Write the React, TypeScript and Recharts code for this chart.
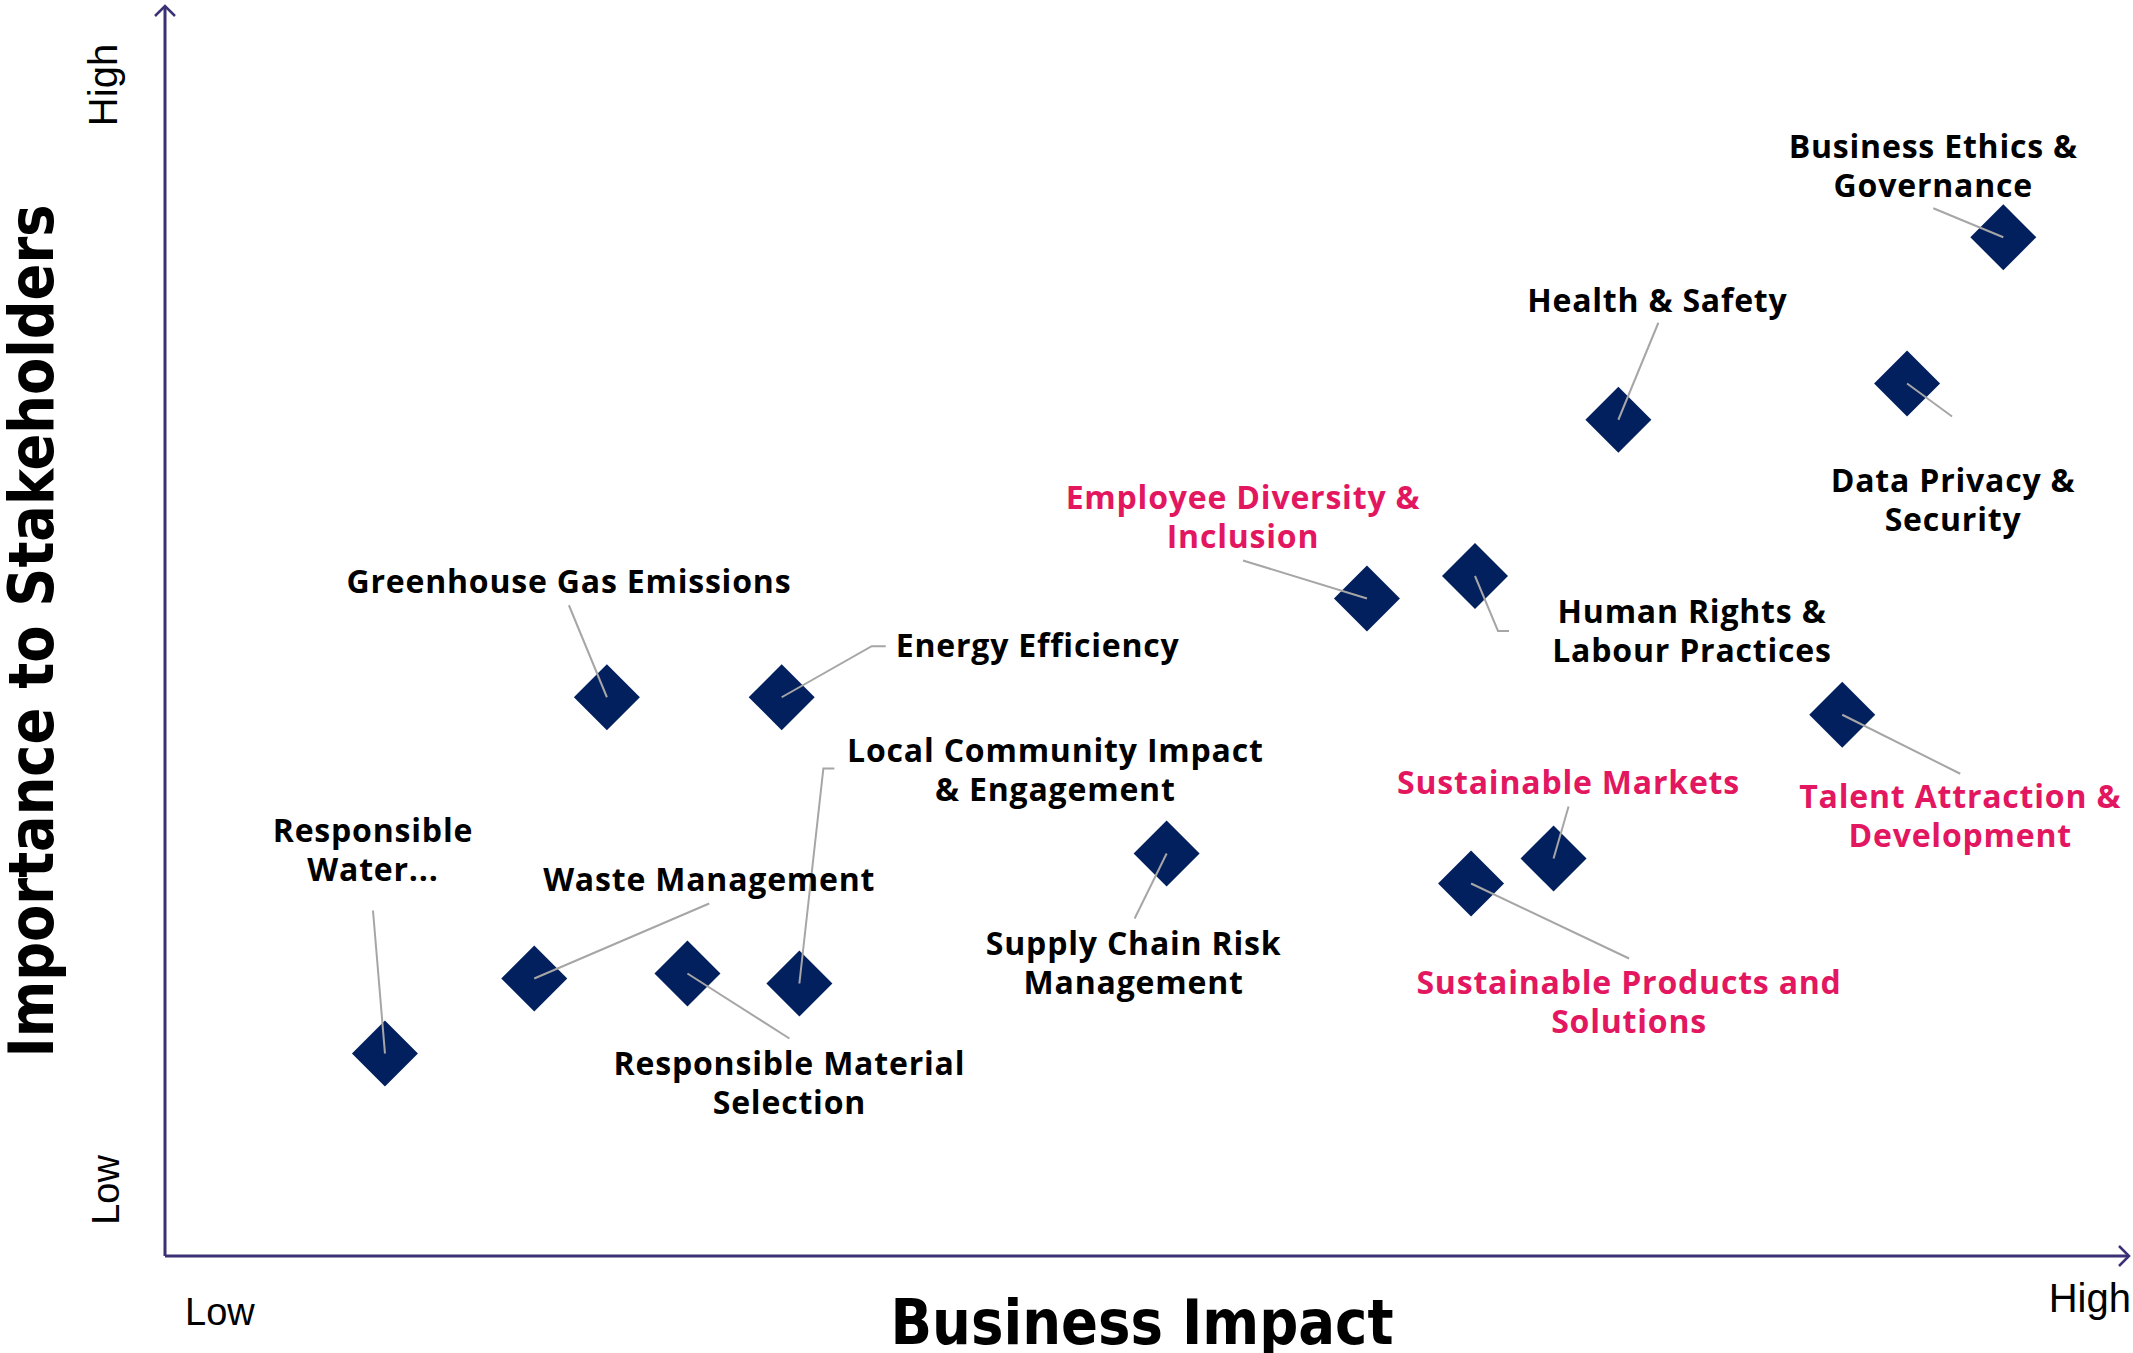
import React from 'react';
import { ScatterChart, Scatter, XAxis, YAxis, Label } from 'recharts';

// materiality topics (0 = low, 10 = high)
const topics = [
  'Business Ethics & Governance',
  'Data Privacy & Security',
  'Health & Safety',
  'Employee Diversity & Inclusion',
  'Human Rights & Labour Practices',
  'Talent Attraction & Development',
  'Sustainable Markets',
  'Sustainable Products and Solutions',
  'Supply Chain Risk Management',
  'Greenhouse Gas Emissions',
  'Energy Efficiency',
  'Local Community Impact & Engagement',
  'Responsible Material Selection',
  'Waste Management',
  'Responsible Water...',
];

const labelLines = [
  ['Business Ethics &', 'Governance'],
  ['Data Privacy &', 'Security'],
  ['Health & Safety'],
  ['Employee Diversity &', 'Inclusion'],
  ['Human Rights &', 'Labour Practices'],
  ['Talent Attraction &', 'Development'],
  ['Sustainable Markets'],
  ['Sustainable Products and', 'Solutions'],
  ['Supply Chain Risk', 'Management'],
  ['Greenhouse Gas Emissions'],
  ['Energy Efficiency'],
  ['Local Community Impact', '& Engagement'],
  ['Responsible Material', 'Selection'],
  ['Waste Management'],
  ['Responsible', 'Water...'],
];

const businessImpact = [9.36, 8.87, 7.40, 6.12, 6.67, 8.54, 7.07, 6.65, 5.10, 2.25, 3.14, 3.23, 2.66, 1.88, 1.12];
const stakeholderImportance = [8.15, 6.98, 6.69, 5.26, 5.44, 4.33, 3.18, 2.98, 3.22, 4.47, 4.47, 2.18, 2.26, 2.22, 1.62];
const highlighted = [false, false, false, true, false, true, true, true, false, false, false, false, false, false, false];

const points = topics.map((topic, i) => ({
  topic,
  idx: i,
  lines: labelLines[i],
  x: businessImpact[i],
  y: stakeholderImportance[i],
  highlighted: highlighted[i],
}));

// label placement relative to each marker (pixels)
const labelLayout = [
  { dx: -70, dy: -79, anchor: 'middle', leader: [[-70, -29], [0, 0]] },
  { dx: 46, dy: 108, anchor: 'middle', leader: [[0, 0], [45, 33]] },
  { dx: 39, dy: -108, anchor: 'middle', leader: [[40, -97], [0, 0]] },
  { dx: -124, dy: -90, anchor: 'middle', leader: [[-124, -38], [0, 0]] },
  { dx: 217, dy: 47, anchor: 'middle', leader: [[0, 0], [23, 55], [34, 55]] },
  { dx: 118, dy: 93, anchor: 'middle', leader: [[0, 0], [118, 59]] },
  { dx: 15, dy: -65, anchor: 'middle', leader: [[15, -52], [0, 0]] },
  { dx: 158, dy: 110, anchor: 'middle', leader: [[0, 0], [158, 75]] },
  { dx: -33, dy: 101, anchor: 'middle', leader: [[0, 0], [-32, 65]] },
  { dx: -38, dy: -104, anchor: 'middle', leader: [[-38, -92], [0, 0]] },
  { dx: 114, dy: -40, anchor: 'start', leader: [[0, 0], [90, -51], [104, -51]] },
  { dx: 256, dy: -222, anchor: 'middle', leader: [[0, 0], [24, -215], [35, -215]] },
  { dx: 102, dy: 101, anchor: 'middle', leader: [[0, 0], [102, 65]] },
  { dx: 175, dy: -88, anchor: 'middle', leader: [[0, 0], [175, -75]] },
  { dx: -12, dy: -212, anchor: 'middle', leader: [[-12, -143], [0, 0]] },
];

const NAVY = '#03205E';
const PINK = '#E2175F';
const AXIS = '#3B3175';
const LINE_H = 39;

function TopicMarker(props: any) {
  const { cx, cy, payload } = props;
  const layout = labelLayout[payload.idx];
  const r = 33;
  const tx = cx + layout.dx;
  return (
    <g>
      <polygon points={`${cx},${cy - r} ${cx + r},${cy} ${cx},${cy + r} ${cx - r},${cy}`} fill={NAVY} />
      <polyline
        points={layout.leader.map(([x, y]) => `${cx + x},${cy + y}`).join(' ')}
        fill="none"
        stroke="#A6A6A6"
        strokeWidth={2}
      />
      <text
        x={tx}
        y={cy + layout.dy}
        textAnchor={layout.anchor}
        fontFamily="'Open Sans', sans-serif"
        fontWeight={700}
        fontSize={32}
        letterSpacing={0.8}
        fill={payload.highlighted ? PINK : '#000'}
      >
        {payload.lines.map((line: string, k: number) => (
          <tspan key={k} x={tx} dy={k === 0 ? 0 : LINE_H}>{line}</tspan>
        ))}
      </text>
    </g>
  );
}

function XAxisText(props: any) {
  const { x, y, width } = props.viewBox;
  return (
    <g>
      <text x={x + 20} y={y + 69} fontFamily="'Liberation Sans', Arial" fontSize={38} fill="#000">Low</text>
      <text x={x + width + 2} y={y + 56} textAnchor="end" fontFamily="'Liberation Sans', Arial" fontSize={40} fill="#000">High</text>
      <text
        x={1142}
        y={y + 88}
        textAnchor="middle"
        fontFamily="'DejaVu Sans Condensed', 'DejaVu Sans', sans-serif"
        fontWeight={700}
        fontSize={62}
        textLength={503}
        lengthAdjust="spacingAndGlyphs"
        fill="#000"
      >
        Business Impact
      </text>
    </g>
  );
}

function YAxisText(props: any) {
  const { y, height } = props.viewBox;
  return (
    <g>
      <text transform={`translate(117, ${y + 79}) rotate(-90)`} textAnchor="middle" fontFamily="'Liberation Sans', Arial" fontSize={40} fill="#000">High</text>
      <text transform={`translate(119, ${y + height - 66}) rotate(-90)`} textAnchor="middle" fontFamily="'Liberation Sans', Arial" fontSize={38} fill="#000">Low</text>
      <text
        transform="translate(53, 631) rotate(-90)"
        textAnchor="middle"
        fontFamily="'DejaVu Sans Condensed', 'DejaVu Sans', sans-serif"
        fontWeight={700}
        fontSize={62}
        textLength={853}
        lengthAdjust="spacingAndGlyphs"
        fill="#000"
      >
        Importance to Stakeholders
      </text>
    </g>
  );
}

export default function App() {
  return (
    <div style={{ position: 'absolute', left: 0, top: 0, width: 2133, height: 1353, background: '#fff' }}>
      <svg width={0} height={0} style={{ position: 'absolute' }}>
        <defs>
          <marker
            id="axisArrow"
            viewBox="-14 -14 28 28"
            refX={0}
            refY={0}
            markerWidth={28}
            markerHeight={28}
            markerUnits="userSpaceOnUse"
            orient="auto-start-reverse"
          >
            <path d="M -10 -10 L 0 0 L -10 10" fill="none" stroke={AXIS} strokeWidth={2.5} />
          </marker>
        </defs>
      </svg>
      <ScatterChart width={2133} height={1353} margin={{ top: 6, right: 4, bottom: 0, left: 0 }}>
        <XAxis
          type="number"
          dataKey="x"
          domain={[0, 10]}
          height={97}
          tick={false}
          tickLine={false}
          axisLine={{ stroke: AXIS, strokeWidth: 3, markerEnd: 'url(#axisArrow)' }}
        >
          <Label content={XAxisText} />
        </XAxis>
        <YAxis
          type="number"
          dataKey="y"
          domain={[0, 10]}
          width={165}
          tick={false}
          tickLine={false}
          axisLine={{ stroke: AXIS, strokeWidth: 3, markerStart: 'url(#axisArrow)' }}
        >
          <Label content={YAxisText} />
        </YAxis>
        <Scatter data={points} shape={TopicMarker} isAnimationActive={false} />
      </ScatterChart>
    </div>
  );
}
